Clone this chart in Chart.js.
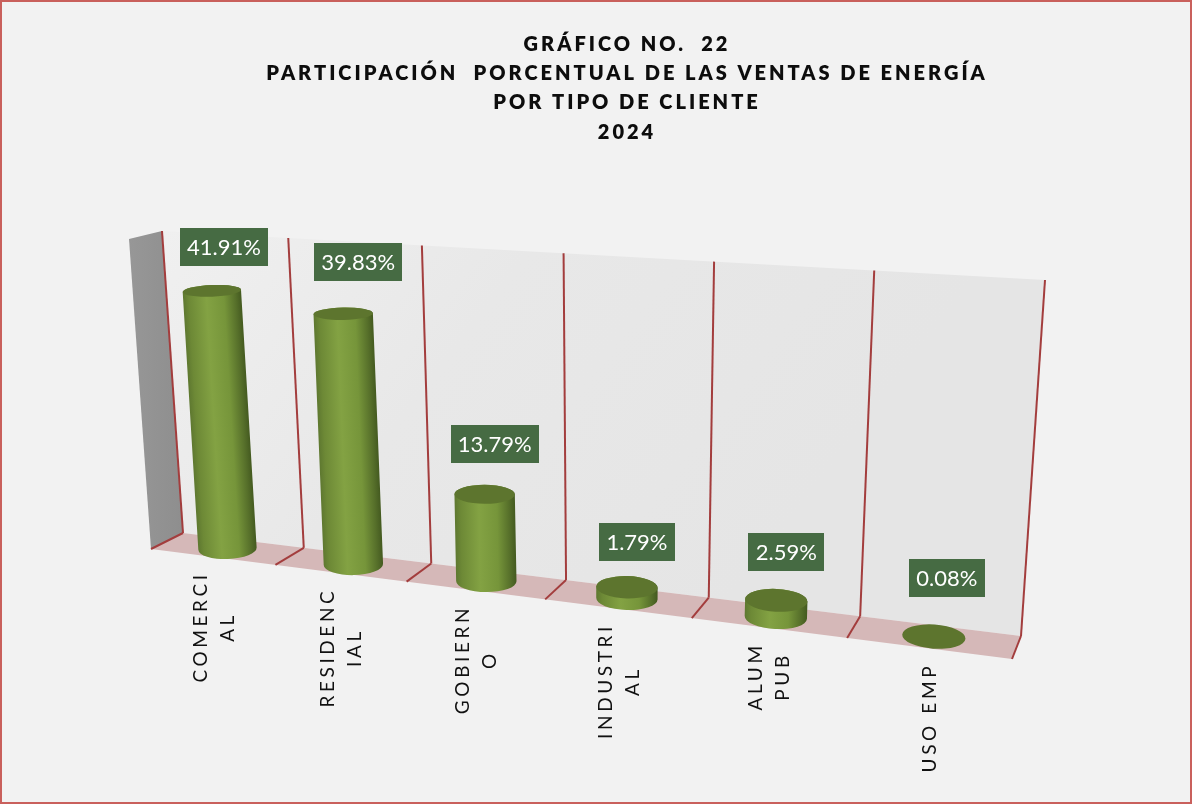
<!DOCTYPE html>
<html><head><meta charset="utf-8">
<style>html,body{margin:0;padding:0;background:#f2f2f2}canvas{display:block}</style>
<script src="https://cdn.jsdelivr.net/npm/chart.js@4"></script>
</head><body>
<canvas id="c" width="1192" height="804"></canvas>
<script>
const categories = [["COMERCI","AL"],["RESIDENC","IAL"],["GOBIERN","O"],["INDUSTRI","AL"],["ALUM","PUB"],["USO EMP"]];
const shares = [41.91,39.83,13.79,1.79,2.59,0.08];
const titleLines = ["GRÁFICO NO.  22","PARTICIPACIÓN  PORCENTUAL DE LAS VENTAS DE ENERGÍA","POR TIPO DE CLIENTE","2024"];
const axisMax = 50;

// Projection of the chart's plane on to the tilted 3D box
function quad(p00,p10,p11,p01){
  const [x0,y0]=p00,[x1,y1]=p10,[x2,y2]=p11,[x3,y3]=p01;
  const dx1=x1-x2,dx2=x3-x2,sx=x0-x1+x2-x3,dy1=y1-y2,dy2=y3-y2,sy=y0-y1+y2-y3;
  const D=dx1*dy2-dx2*dy1,g=(sx*dy2-dx2*sy)/D,h=(dx1*sy-sx*dy1)/D;
  const a=x1-x0+g*x1,b=x3-x0+h*x3,d=y1-y0+g*y1,e=y3-y0+h*y3;
  return (u,v)=>{const w=g*u+h*v+1;return [(a*u+b*v+x0)/w,(d*u+e*v+y0)/w];};
}
const back = quad([183,533],[1021,636],[1045,280],[162,231]);
const front = quad([151,549],[1012,659],[1036,295],[129,239]);
const mid = (u,v)=>{const a=back(u,v),b=front(u,v);return [(a[0]+b[0])/2,(a[1]+b[1])/2];};

const RED='#a33d3d';
const labelNudge=[[12,-44],[15,-52],[10,-50],[10,-45],[10,-48],[13,-59]];

function line(ctx,a,b,w){ctx.beginPath();ctx.moveTo(a[0],a[1]);ctx.lineTo(b[0],b[1]);ctx.lineWidth=w||2;ctx.strokeStyle=RED;ctx.stroke();}
function poly(ctx,pts,fill){ctx.beginPath();pts.forEach((p,i)=>i?ctx.lineTo(p[0],p[1]):ctx.moveTo(p[0],p[1]));ctx.closePath();ctx.fillStyle=fill;ctx.fill();}

const box3d = {
  id:'box3d',
  beforeDraw(chart){
    const ctx=chart.ctx;
    ctx.save();
    ctx.fillStyle='#f2f2f2';ctx.fillRect(0,0,chart.width,chart.height);
    ctx.strokeStyle='#c9605c';ctx.lineWidth=2;ctx.strokeRect(1,1,chart.width-2,chart.height-2);
    ctx.restore();
    ctx.letterSpacing='3px';
  },
  beforeDatasetsDraw(chart){
    const ctx=chart.ctx;
    ctx.letterSpacing='0px';
    ctx.save();
    const n=categories.length;
    const wg=ctx.createLinearGradient(162,231,700,640);
    wg.addColorStop(0,'#f0f0f0');wg.addColorStop(.45,'#e8e8e8');wg.addColorStop(1,'#e5e5e5');
    poly(ctx,[back(0,0),back(1,0),back(1,1),back(0,1)],wg);
    const lg=ctx.createLinearGradient(129,0,183,0);
    lg.addColorStop(0,'#979797');lg.addColorStop(1,'#8e8e8e');
    poly(ctx,[front(0,0),back(0,0),back(0,1),front(0,1)],lg);
    poly(ctx,[back(0,0),back(1,0),front(1,0),front(0,0)],'#d5b8b8');
    for(let i=0;i<=n;i++){
      const u=i/n;
      line(ctx,back(u,0),back(u,1));
      line(ctx,back(u,0),front(u,0));
    }
    ctx.restore();
  },
  afterDatasetsDraw(chart){
    const ctx=chart.ctx,area=chart.chartArea,meta=chart.getDatasetMeta(0);
    const n=categories.length;
    ctx.save();
    const ryAt=y=>Math.max(5,6+(y-300)*0.018);
    meta.data.forEach((el,i)=>{
      const u=(el.x-area.left)/area.width;
      const t=(el.base-el.y)/(el.base-area.top);
      const [bx,by]=mid(u,0),[tx,ty]=mid(u,t);
      const rx=el.width/2*(.96+.1*u);
      const rot=-0.05+0.13*u;
      const ryb=ryAt(by),ryt=ryAt(ty);
      if(shares[i]>=0.5){
        const len=Math.hypot(bx-tx,by-ty)||1;
        const nx=(by-ty)/len,ny=-(bx-tx)/len;
        const sg=ctx.createLinearGradient(bx-nx*rx,by-ny*rx,bx+nx*rx,by+ny*rx);
        sg.addColorStop(0,'#5e7830');sg.addColorStop(.1,'#6d8936');sg.addColorStop(.4,'#83a243');
        sg.addColorStop(.7,'#76953a');sg.addColorStop(.9,'#566f2a');sg.addColorStop(1,'#445a20');
        ctx.beginPath();
        ctx.ellipse(bx,by,rx,ryb,rot,Math.PI,0,true);
        ctx.ellipse(tx,ty,rx,ryt,rot,0,Math.PI,true);
        ctx.closePath();
        ctx.fillStyle=sg;ctx.fill();
      }
      ctx.beginPath();ctx.ellipse(tx,ty,rx,ryt,rot,0,Math.PI*2);
      ctx.fillStyle='#5d752e';ctx.fill();
      // data label
      const txt=shares[i].toFixed(2)+'%';
      ctx.font='400 22px Lato, "Open Sans", sans-serif';
      const w=shares[i]>=10?88:76,h=38;
      const cx=tx+labelNudge[i][0],cy=ty+labelNudge[i][1];
      ctx.fillStyle='#466b43';ctx.fillRect(Math.round(cx-w/2),Math.round(cy-h/2),w,h);
      ctx.fillStyle='#ffffff';ctx.textAlign='center';ctx.textBaseline='middle';
      ctx.fillText(txt,cx,cy+1);
    });
    // category labels
    ctx.font='400 19px Lato, "Open Sans", sans-serif';
    ctx.fillStyle='#111111';ctx.letterSpacing='3.6px';ctx.textAlign='center';ctx.textBaseline='middle';
    categories.forEach((lines,i)=>{
      const [fx,fy]=front((i+.5)/n,0);
      const longest=Math.max(...lines.map(s=>ctx.measureText(s).width));
      const cy=fy+14.5+longest/2;
      lines.forEach((s,k)=>{
        ctx.save();
        ctx.translate(fx+1.5+(k-(lines.length-1)/2)*27,cy);
        ctx.rotate(-Math.PI/2);
        ctx.fillText(s,0,0);
        ctx.restore();
      });
    });
    ctx.restore();
  }
};

new Chart(document.getElementById('c'),{
  type:'bar',
  data:{labels:categories.map(c=>c.join('')),datasets:[{data:shares,backgroundColor:'rgba(0,0,0,0)',borderWidth:0,barPercentage:.32,categoryPercentage:1}]},
  options:{
    responsive:false,animation:false,
    layout:{padding:{left:62,top:30,bottom:100}},
    plugins:{
      legend:{display:false},tooltip:{enabled:false},
      title:{display:true,text:titleLines,color:'#0d0d0d',align:'center',
        font:{family:'Lato, "Open Sans", sans-serif',size:20,weight:'800',lineHeight:1.46},padding:{top:0,bottom:10}}
    },
    scales:{
      x:{display:false},
      y:{display:false,min:0,max:axisMax}
    }
  },
  plugins:[box3d]
});
</script>
</body></html>
